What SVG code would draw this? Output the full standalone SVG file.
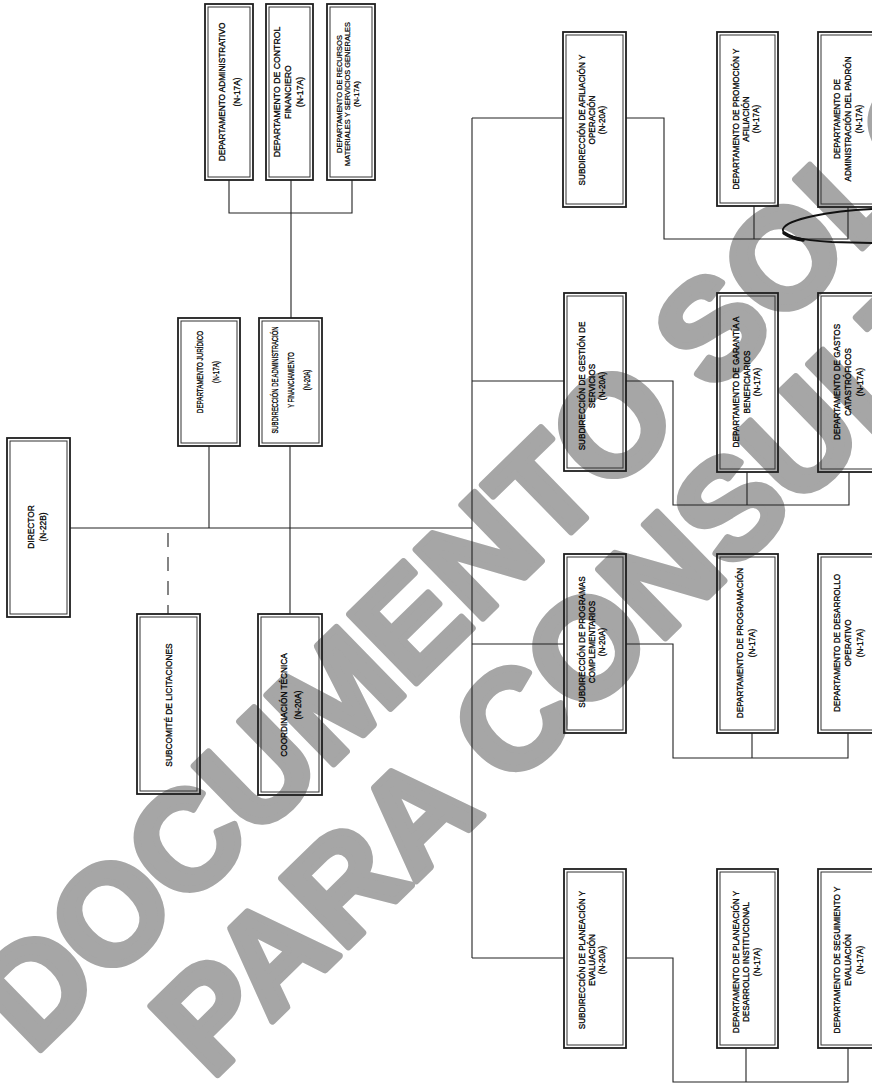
<svg xmlns="http://www.w3.org/2000/svg" width="872" height="1084" viewBox="0 0 872 1084">
<style>
.bo{fill:none;stroke:#1e1e1e;stroke-width:1.8}
.bi{fill:none;stroke:#333;stroke-width:1}
.lbl{font-family:"Liberation Sans",Arial,sans-serif;font-size:9.5px;fill:#000;stroke:#000;stroke-width:0.3;text-anchor:middle}
.sm{font-size:7px;stroke-width:0.2}
#connectors path{fill:none;stroke:#222;stroke-width:1.1}
#connectors path.dash{stroke-dasharray:14 10}
.wm{font-family:"Liberation Sans",Arial,sans-serif;font-weight:bold;font-size:139px;fill:#a6a6a6;stroke:#a6a6a6;stroke-width:7;stroke-linejoin:round}
</style>
<rect width="872" height="1084" fill="#fff"/>
<g id="watermark">
<text class="wm" transform="translate(34,1056) rotate(-44.3)">DOCUMENTO SOLO</text>
<text class="wm" transform="translate(211,1081) rotate(-44.3)">PARA CONSULTA</text>
</g>
<g id="connectors">
<path d="M70,528H472"/>
<path d="M209,446V528"/>
<path d="M290,446V614"/>
<path class="dash" d="M168,533V614"/>
<path d="M229,180V213H352V180M291,180V318"/>
<path d="M472,118V958"/>
<path d="M472,118H563M626,118H664V239H848V207M754,206V239"/>
<path d="M472,381H564M626,381H673V505H849V472M747,472V505"/>
<path d="M472,644H564M626,644H673V758H848V733M752,733V758"/>
<path d="M472,958H564M626,958H673V1082H848V1048M746,1048V1082"/>
</g>
<g id="annotation">
<path d="M872,209C830,211 787,219 783,229C781,236 800,240 832,242L872,243" fill="none" stroke="#111" stroke-width="1.8"/>
<path d="M784,233C790,237 796,239 803,240" fill="none" stroke="#111" stroke-width="3.5" stroke-linecap="round"/>
</g>
<g id="director"><rect class="bo" x="7" y="438" width="63" height="179"/><rect class="bi" x="10" y="441" width="57" height="173"/>
<text class="lbl" transform="translate(0,527) rotate(-90) scale(0.88,1)"><tspan x="0" y="34.4">DIRECTOR</tspan><tspan x="0" y="46.4">(N-22B)</tspan></text></g>
<g id="dept-juridico"><rect class="bo" x="178" y="318" width="62" height="128"/><rect class="bi" x="181" y="321" width="56" height="122"/>
<text class="lbl" transform="translate(0,372) rotate(-90) scale(0.66,1)"><tspan x="0" y="203.4">DEPARTAMENTO JURÍDICO</tspan><tspan x="0" y="219.4">(N-17A)</tspan></text></g>
<g id="sub-admin"><rect class="bo" x="259" y="318" width="63" height="128"/><rect class="bi" x="262" y="321" width="57" height="122"/>
<text class="lbl" transform="translate(0,380) rotate(-90) scale(0.62,1)"><tspan x="0" y="278.4">SUBDIRECCIÓN DE ADMINISTRACIÓN</tspan><tspan x="0" y="294.4">Y FINANCIAMIENTO</tspan><tspan x="0" y="310.4">(N-20A)</tspan></text></g>
<g id="subcomite"><rect class="bo" x="137" y="614" width="63" height="180"/><rect class="bi" x="140" y="617" width="57" height="174"/>
<text class="lbl" transform="translate(0,705) rotate(-90) scale(0.88,1)"><tspan x="0" y="171.9">SUBCOMITÉ DE LICITACIONES</tspan></text></g>
<g id="coordinacion"><rect class="bo" x="258" y="614" width="64" height="181"/><rect class="bi" x="261" y="617" width="58" height="175"/>
<text class="lbl" transform="translate(0,705) rotate(-90) scale(0.87,1)"><tspan x="0" y="287.4">COORDINACIÓN TÉCNICA</tspan><tspan x="0" y="301.4">(N-20A)</tspan></text></g>
<g id="dept-administrativo"><rect class="bo" x="205" y="4" width="48" height="176"/><rect class="bi" x="208" y="7" width="42" height="170"/>
<text class="lbl" transform="translate(0,92) rotate(-90) scale(0.87,1)"><tspan x="0" y="225.4">DEPARTAMENTO ADMINISTRATIVO</tspan><tspan x="0" y="240.4">(N-17A)</tspan></text></g>
<g id="dept-control"><rect class="bo" x="266" y="4" width="47" height="176"/><rect class="bi" x="269" y="7" width="41" height="170"/>
<text class="lbl" transform="translate(0,92) rotate(-90) scale(0.92,1)"><tspan x="0" y="280.4">DEPARTAMENTO DE CONTROL</tspan><tspan x="0" y="291.4">FINANCIERO</tspan><tspan x="0" y="303.4">(N-17A)</tspan></text></g>
<g id="dept-recursos"><rect class="bo" x="327" y="4" width="48" height="176"/><rect class="bi" x="330" y="7" width="42" height="170"/>
<text class="lbl sm" transform="translate(0,94) rotate(-90) scale(1.07,1)"><tspan x="0" y="342.5">DEPARTAMENTO DE RECURSOS</tspan><tspan x="0" y="350.5">MATERIALES Y SERVICIOS GENERALES</tspan><tspan x="0" y="359.5">(N-17A)</tspan></text></g>
<g id="sub-afiliacion"><rect class="bo" x="563" y="32" width="63" height="175"/><rect class="bi" x="566" y="35" width="57" height="169"/>
<text class="lbl" transform="translate(0,120) rotate(-90) scale(0.86,1)"><tspan x="0" y="585.4">SUBDIRECCIÓN DE AFILIACIÓN Y</tspan><tspan x="0" y="595.4">OPERACIÓN</tspan><tspan x="0" y="605.4">(N-20A)</tspan></text></g>
<g id="dept-promocion"><rect class="bo" x="717" y="32" width="61" height="174"/><rect class="bi" x="720" y="35" width="55" height="168"/>
<text class="lbl" transform="translate(0,119) rotate(-90) scale(0.86,1)"><tspan x="0" y="739.4">DEPARTAMENTO DE PROMOCIÓN Y</tspan><tspan x="0" y="749.4">AFILIACIÓN</tspan><tspan x="0" y="759.4">(N-17A)</tspan></text></g>
<g id="dept-padron"><rect class="bo" x="818" y="32" width="62" height="175"/><rect class="bi" x="821" y="35" width="56" height="169"/>
<text class="lbl" transform="translate(0,119) rotate(-90) scale(0.86,1)"><tspan x="0" y="840.4">DEPARTAMENTO DE</tspan><tspan x="0" y="851.4">ADMINISTRACIÓN DEL PADRÓN</tspan><tspan x="0" y="862.4">(N-17A)</tspan></text></g>
<g id="sub-gestion"><rect class="bo" x="564" y="293" width="62" height="178"/><rect class="bi" x="567" y="296" width="56" height="172"/>
<text class="lbl" transform="translate(0,386) rotate(-90) scale(0.86,1)"><tspan x="0" y="585.4">SUBDIRECCIÓN DE GESTIÓN DE</tspan><tspan x="0" y="595.4">SERVICIOS</tspan><tspan x="0" y="605.4">(N-20A)</tspan></text></g>
<g id="dept-garantia"><rect class="bo" x="717" y="293" width="61" height="179"/><rect class="bi" x="720" y="296" width="55" height="173"/>
<text class="lbl" transform="translate(0,382) rotate(-90) scale(0.86,1)"><tspan x="0" y="739.4">DEPARTAMENTO DE GARANTÍA A</tspan><tspan x="0" y="750.4">BENEFICIARIOS</tspan><tspan x="0" y="760.4">(N-17A)</tspan></text></g>
<g id="dept-gastos"><rect class="bo" x="818" y="293" width="62" height="179"/><rect class="bi" x="821" y="296" width="56" height="173"/>
<text class="lbl" transform="translate(0,382) rotate(-90) scale(0.86,1)"><tspan x="0" y="840.4">DEPARTAMENTO DE GASTOS</tspan><tspan x="0" y="851.4">CATASTRÓFICOS</tspan><tspan x="0" y="863.4">(N-17A)</tspan></text></g>
<g id="sub-programas"><rect class="bo" x="564" y="554" width="62" height="179"/><rect class="bi" x="567" y="557" width="56" height="173"/>
<text class="lbl" transform="translate(0,642) rotate(-90) scale(0.86,1)"><tspan x="0" y="585.4">SUBDIRECCIÓN DE PROGRAMAS</tspan><tspan x="0" y="595.4">COMPLEMENTARIOS</tspan><tspan x="0" y="605.4">(N-20A)</tspan></text></g>
<g id="dept-programacion"><rect class="bo" x="717" y="554" width="61" height="179"/><rect class="bi" x="720" y="557" width="55" height="173"/>
<text class="lbl" transform="translate(0,643) rotate(-90) scale(0.86,1)"><tspan x="0" y="743.4">DEPARTAMENTO DE PROGRAMACIÓN</tspan><tspan x="0" y="755.4">(N-17A)</tspan></text></g>
<g id="dept-desarrollo"><rect class="bo" x="818" y="554" width="62" height="179"/><rect class="bi" x="821" y="557" width="56" height="173"/>
<text class="lbl" transform="translate(0,643) rotate(-90) scale(0.86,1)"><tspan x="0" y="840.4">DEPARTAMENTO DE DESARROLLO</tspan><tspan x="0" y="851.4">OPERATIVO</tspan><tspan x="0" y="863.4">(N-17A)</tspan></text></g>
<g id="sub-planeacion"><rect class="bo" x="564" y="869" width="62" height="179"/><rect class="bi" x="567" y="872" width="56" height="173"/>
<text class="lbl" transform="translate(0,960) rotate(-90) scale(0.86,1)"><tspan x="0" y="585.4">SUBDIRECCIÓN DE PLANEACIÓN Y</tspan><tspan x="0" y="595.4">EVALUACIÓN</tspan><tspan x="0" y="605.4">(N-20A)</tspan></text></g>
<g id="dept-planeacion"><rect class="bo" x="717" y="869" width="61" height="179"/><rect class="bi" x="720" y="872" width="55" height="173"/>
<text class="lbl" transform="translate(0,962) rotate(-90) scale(0.86,1)"><tspan x="0" y="739.4">DEPARTAMENTO DE PLANEACIÓN Y</tspan><tspan x="0" y="749.4">DESARROLLO INSTITUCIONAL</tspan><tspan x="0" y="760.4">(N-17A)</tspan></text></g>
<g id="dept-seguimiento"><rect class="bo" x="818" y="869" width="62" height="179"/><rect class="bi" x="821" y="872" width="56" height="173"/>
<text class="lbl" transform="translate(0,960) rotate(-90) scale(0.86,1)"><tspan x="0" y="840.4">DEPARTAMENTO DE SEGUIMIENTO Y</tspan><tspan x="0" y="851.4">EVALUACIÓN</tspan><tspan x="0" y="863.4">(N-17A)</tspan></text></g>
</svg>
